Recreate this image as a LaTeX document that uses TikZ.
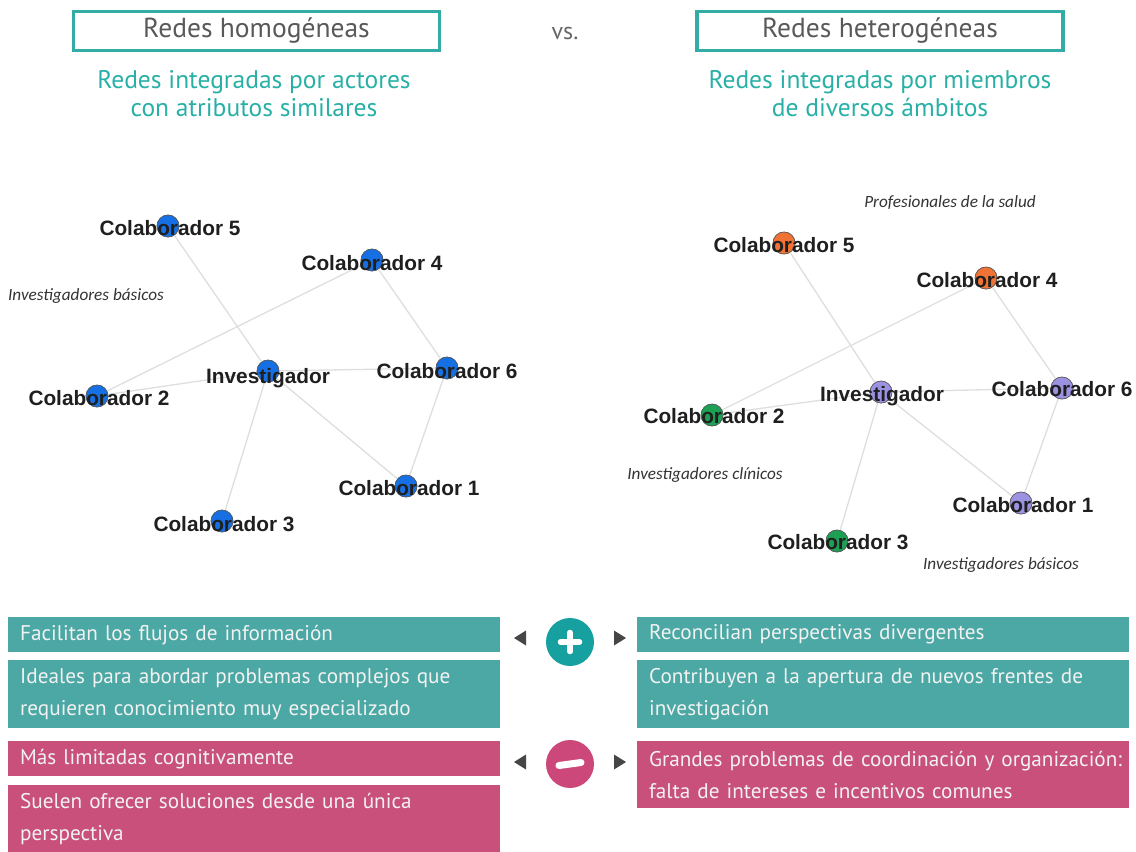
\documentclass[tikz,border=0pt]{standalone}
\usepackage{fontspec}
\setmainfont{PT Sans}
\newfontfamily\arialfont{Liberation Sans}
\newfontfamily\calfont{Carlito}
\usetikzlibrary{positioning}

\definecolor{tealbox}{RGB}{50,172,165}
\definecolor{tealtxt}{RGB}{40,176,166}
\definecolor{barteal}{RGB}{76,168,164}
\definecolor{barpink}{RGB}{200,80,122}
\definecolor{pluscol}{RGB}{22,160,160}
\definecolor{minuscol}{RGB}{204,72,122}
\definecolor{nodeblue}{RGB}{22,112,228}
\definecolor{nodeorange}{RGB}{240,114,52}
\definecolor{nodegreen}{RGB}{30,160,84}
\definecolor{nodelav}{RGB}{156,146,226}
\definecolor{tipgray}{RGB}{70,70,70}

\tikzset{
  titlebox/.style={draw=tealbox, line width=3.5pt, minimum width=366pt, minimum height=39pt,
    text=black!65, font=\fontsize{27.5}{30}\selectfont, inner sep=0pt},
  subtitle/.style={text=tealtxt, align=center, font=\fontsize{25.5}{28}\selectfont},
  colab/.style={circle, draw=black!65, line width=0.6pt, minimum size=22pt, inner sep=0pt, fill=#1},
  lbl/.style={text=black!88, font=\arialfont\bfseries\fontsize{20.8}{22}\selectfont, inner sep=0pt},
  group/.style={text=black!80, font=\calfont\itshape\fontsize{17.2}{19}\selectfont, inner sep=0pt},
  edge/.style={draw=black!13, line width=1.3pt},
  bar/.style={anchor=north west, fill=#1, text=white!95!black, minimum width=492pt,
    text width=468pt, inner xsep=12pt, inner ysep=0pt, align=left,
    font=\fontsize{21.2}{32}\selectfont},
  tip/.style={fill=tipgray}
}

\begin{document}
\begin{tikzpicture}[x=1pt,y=-1pt]
    \useasboundingbox (0,0) rectangle (1136,852);

    % headings
    \node [titlebox] (homo) at (256.5,31) {Redes homogéneas};
    \node [titlebox] (hetero) at (880,31) {Redes heterogéneas};
    \node [text=black!60, font=\fontsize{24}{26}\selectfont] (vs) at (565,33) {vs.};
    \node [subtitle] (homosub) at (254,94) {Redes integradas por actores\\con atributos similares};
    \node [subtitle] (heterosub) at (880,94) {Redes integradas por miembros\\de diversos ámbitos};

    % red homogenea
    \node [colab=nodeblue] (l5) at (168,226) {};
    \node [colab=nodeblue] (l4) at (372,260) {};
    \node [colab=nodeblue] (linv) at (268,371) {};
    \node [colab=nodeblue] (l6) at (447,368) {};
    \node [colab=nodeblue] (l2) at (97,396) {};
    \node [colab=nodeblue] (l1) at (406,486) {};
    \node [colab=nodeblue] (l3) at (222,521) {};
    \foreach \a/\b in {l5/linv, l4/l2, l4/l6, linv/l6, linv/l2, linv/l1, linv/l3, l6/l1}
        \draw [edge] (\a) -- (\b);
    \foreach \n in {l5,l4,linv,l6,l2,l1,l3}
        \node [colab=nodeblue] at (\n) {};
    \node [lbl] (l5t) at ([xshift=2pt,yshift=-2pt]l5) {Colaborador 5};
    \node [lbl] (l4t) at ([xshift=0pt,yshift=-3pt]l4) {Colaborador 4};
    \node [lbl] (linvt) at ([yshift=-7pt]linv) {Investigador};
    \node [lbl] (l6t) at ([xshift=0pt,yshift=-3pt]l6) {Colaborador 6};
    \node [lbl] (l2t) at ([xshift=2pt,yshift=-2pt]l2) {Colaborador 2};
    \node [lbl] (l1t) at ([xshift=3pt,yshift=-2pt]l1) {Colaborador 1};
    \node [lbl] (l3t) at ([xshift=2pt,yshift=-3pt]l3) {Colaborador 3};
    \node [group] (lbas) at (86,296) {Investigadores básicos};

    % red heterogenea
    \node [colab=nodeorange] (r5) at (784,243) {};
    \node [colab=nodeorange] (r4) at (986,278) {};
    \node [colab=nodelav] (rinv) at (881,392) {};
    \node [colab=nodelav] (r6) at (1062,388) {};
    \node [colab=nodegreen] (r2) at (712,415) {};
    \node [colab=nodelav] (r1) at (1021,503) {};
    \node [colab=nodegreen] (r3) at (837,541) {};
    \foreach \a/\b in {r5/rinv, r4/r2, r4/r6, rinv/r6, rinv/r2, rinv/r1, rinv/r3, r6/r1}
        \draw [edge] (\a) -- (\b);
    \foreach \n/\c in {r5/nodeorange, r4/nodeorange, rinv/nodelav, r6/nodelav, r2/nodegreen, r1/nodelav, r3/nodegreen}
        \node [colab=\c] at (\n) {};
    \node [lbl] (r5t) at ([xshift=0pt,yshift=-2pt]r5) {Colaborador 5};
    \node [lbl] (r4t) at ([xshift=1pt,yshift=-2pt]r4) {Colaborador 4};
    \node [lbl] (rinvt) at ([xshift=1pt,yshift=-4pt]rinv) {Investigador};
    \node [lbl] (r6t) at ([xshift=0pt,yshift=-1pt]r6) {Colaborador 6};
    \node [lbl] (r2t) at ([xshift=2pt,yshift=-1pt]r2) {Colaborador 2};
    \node [lbl] (r1t) at ([xshift=2pt,yshift=-2pt]r1) {Colaborador 1};
    \node [lbl] (r3t) at ([xshift=1pt,yshift=-1pt]r3) {Colaborador 3};
    \node [group] (rsal) at (950,203) {Profesionales de la salud};
    \node [group] (rcli) at (705,475) {Investigadores clínicos};
    \node [group] (rbas) at (1001,565) {Investigadores básicos};

    % ventajas y desventajas
    \node [bar=barteal, minimum height=35pt] (hp1) at (8,617) {Facilitan los flujos de información};
    \node [bar=barteal, minimum height=68pt] (hp2) at (8,660) {Ideales para abordar problemas complejos que\\requieren conocimiento muy especializado};
    \node [bar=barpink, minimum height=35pt] (hm1) at (8,741) {Más limitadas cognitivamente};
    \node [bar=barpink, minimum height=68pt] (hm2) at (8,785) {Suelen ofrecer soluciones desde una única\\perspectiva};
    \node [bar=barteal, minimum height=35pt] (tp1) at (637,617) {Reconcilian perspectivas divergentes};
    \node [bar=barteal, minimum height=68pt] (tp2) at (637,660) {Contribuyen a la apertura de nuevos frentes de\\investigación};
    \node [bar=barpink, minimum height=67pt] (tm1) at (637,741) {\mbox{Grandes problemas de coordinación y organización:}\\falta de intereses e incentivos comunes};

    % signos
    \node [circle, fill=pluscol, minimum size=48pt, inner sep=0pt] (plus) at (570,642) {};
    \draw [white, line width=5.5pt, line cap=round] ([xshift=-9.5pt]plus.center) -- ([xshift=9.5pt]plus.center);
    \draw [white, line width=5.5pt, line cap=round] ([yshift=-9.5pt]plus.center) -- ([yshift=9.5pt]plus.center);
    \node [circle, fill=minuscol, minimum size=48pt, inner sep=0pt] (minus) at (570,764) {};
    \draw [white, line width=7pt, line cap=round] ([xshift=-11pt,yshift=-1.5pt]minus.center) -- ([xshift=11pt,yshift=1.5pt]minus.center);
    \foreach \y in {638,762} {
        \fill [tip] (514,\y) -- (526,\y-7.5) -- (526,\y+7.5) -- cycle;
        \fill [tip] (626,\y) -- (614,\y-7.5) -- (614,\y+7.5) -- cycle;
    }
\end{tikzpicture}
\end{document}
